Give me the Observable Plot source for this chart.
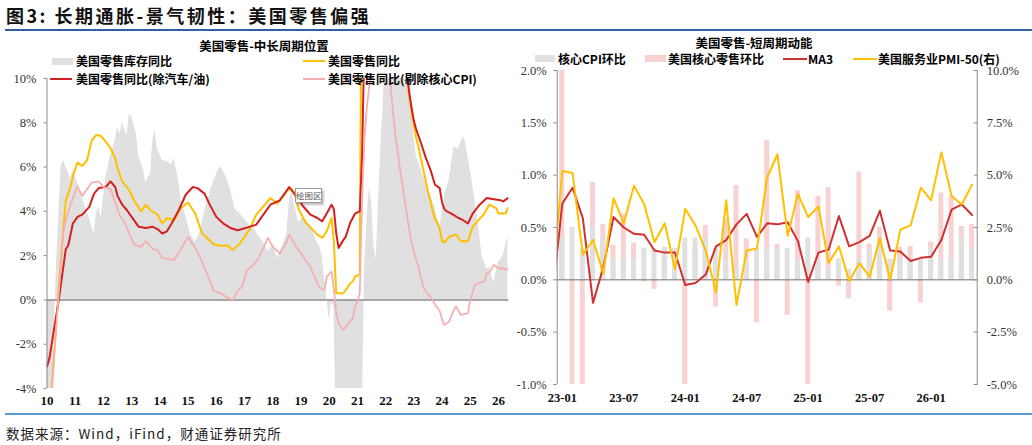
<!DOCTYPE html>
<html>
<head>
<meta charset="utf-8">
<script src="https://cdn.jsdelivr.net/npm/d3@7"></script>
<script src="https://cdn.jsdelivr.net/npm/@observablehq/plot@0.6"></script>
<style>
  html, body { margin: 0; padding: 0; background: #fff; }
  #page { position: relative; width: 1032px; height: 445px; overflow: hidden; background: #fff;
          font-family: "Noto Sans CJK SC", "Noto Sans", sans-serif; color: #000; }
  .abs { position: absolute; white-space: nowrap; }
  .fig-title { left: 6px; top: 3px; font-size: 18px; font-weight: 700; letter-spacing: 2.5px; line-height: 24px; color: #111; }
  .rule-top { left: 5px; right: 0; top: 29px; height: 2px; background: #2f5fa7; }
  .rule-bottom { left: 5px; right: 0; top: 413px; height: 2px; background: #5b9bd5; }
  .source { left: 6px; top: 424px; font-size: 13.5px; line-height: 18px; color: #222; letter-spacing: 1px; }
  .chart-title { font-size: 12.5px; font-weight: 700; line-height: 16px; transform: translateX(-50%); }
  .lg { font-size: 12px; font-weight: 700; line-height: 14px; }
  .sw-box { position: absolute; }
  .sw-line { position: absolute; height: 2px; }
  .plot-holder { position: absolute; left: 0; top: 0; width: 1032px; height: 445px; }
  .tip { left: 295px; top: 188px; width: 25px; height: 13px; border: 1px solid #9a9a9a; background: #fff;
         box-shadow: 2px 2px 2px rgba(0,0,0,0.25); font-size: 8.5px; line-height: 13px; color: #555; text-align: center; }
</style>
</head>
<body>
<div id="page">
  <div class="abs fig-title">图3: 长期通胀-景气韧性：美国零售偏强</div>
  <div class="abs rule-top"></div>

  <div class="plot-holder" id="left-chart"></div>
  <div class="plot-holder" id="right-chart"></div>

  <!-- left panel header and legend -->
  <div class="abs chart-title" style="left:264px; top:38px;">美国零售-中长周期位置</div>
  <div class="sw-box" style="left:52px; top:57.5px; width:21px; height:7.5px; background:#e0e0e0;"></div>
  <div class="abs lg" style="left:76px; top:54px;">美国零售库存同比</div>
  <div class="sw-line" style="left:303px; top:60px; width:22px; background:#ffc000;"></div>
  <div class="abs lg" style="left:328px; top:54px;">美国零售同比</div>
  <div class="sw-line" style="left:50px; top:78px; width:22px; background:#d42020;"></div>
  <div class="abs lg" style="left:76px; top:72px;">美国零售同比(除汽车/油)</div>
  <div class="sw-line" style="left:303px; top:78px; width:22px; background:#f4b0b0;"></div>
  <div class="abs lg" style="left:328px; top:72px;">美国零售同比(剔除核心CPI)</div>
  <div class="abs tip">绘图区</div>

  <!-- right panel header and legend -->
  <div class="abs chart-title" style="left:754px; top:34.5px;">美国零售-短周期动能</div>
  <div class="sw-box" style="left:535px; top:55px; width:20px; height:7px; background:#e0e0e0;"></div>
  <div class="abs lg" style="left:558px; top:51.5px;">核心CPI环比</div>
  <div class="sw-box" style="left:645px; top:55px; width:21px; height:7px; background:#f8d2d3;"></div>
  <div class="abs lg" style="left:668px; top:51.5px;">美国核心零售环比</div>
  <div class="sw-line" style="left:783px; top:58px; width:24px; background:#d03030;"></div>
  <div class="abs lg" style="left:808px; top:51.5px;">MA3</div>
  <div class="sw-line" style="left:853px; top:58px; width:24px; background:#ffc000;"></div>
  <div class="abs lg" style="left:878px; top:51.5px;">美国服务业PMI-50(右)</div>

  <div class="abs rule-bottom"></div>
  <div class="abs source">数据来源：Wind，iFind，财通证券研究所</div>
</div>

<script>
// ---------- Long/medium cycle: monthly YoY, % ----------
const inventoryYoY = [
  ["2010-01",-6.0],["2010-03",-5.0],["2010-04",-1.5],["2010-05",1.5],["2010-06",3.8],["2010-07",6.0],["2010-08",6.3],["2010-09",6.0],["2010-10",5.8],["2010-11",5.4],["2010-12",5.9],
  ["2011-01",5.6],["2011-03",5.0],["2011-05",4.3],["2011-07",3.7],["2011-09",3.0],["2011-10",3.9],["2011-11",4.2],["2011-12",3.7],
  ["2012-02",5.5],["2012-04",6.5],["2012-06",7.2],["2012-07",7.8],["2012-08",7.5],["2012-09",8.0],["2012-11",7.4],["2012-12",8.4],
  ["2013-01",8.3],["2013-03",7.5],["2013-04",6.5],["2013-06",5.9],["2013-07",5.3],["2013-09",5.7],["2013-10",7.2],["2013-11",7.7],["2013-12",6.8],
  ["2014-02",6.3],["2014-04",6.25],["2014-06",6.1],["2014-07",6.4],["2014-09",5.4],["2014-10",4.5],["2014-12",3.8],
  ["2015-02",3.0],["2015-04",2.6],["2015-06",3.0],["2015-08",4.0],["2015-11",5.1],
  ["2016-02",5.9],["2016-03",6.0],["2016-05",5.6],["2016-07",5.0],["2016-09",4.1],["2016-11",3.9],
  ["2017-02",3.5],["2017-05",3.2],["2017-07",2.9],["2017-09",2.6],["2017-11",2.2],
  ["2018-01",2.5],["2018-03",1.9],["2018-05",2.4],["2018-07",3.0],["2018-08",4.4],["2018-09",4.9],["2018-10",4.4],["2018-12",3.5],
  ["2019-02",3.75],["2019-04",3.5],["2019-06",3.2],["2019-07",2.8],["2019-09",2.4],["2019-10",2.0],["2019-11",1.0],["2019-12",0.1],
  ["2020-01",-0.9],["2020-02",-0.1],["2020-03",-0.3],["2020-04",-6.0],["2021-03",-6.0],["2021-04",1.5],["2021-05",3.5],["2021-06",5.0],["2021-07",4.5],["2021-08",2.5],["2021-09",1.8],["2021-10",4.5],["2021-11",7.0],["2021-12",9.0],
  ["2022-01",11.0],["2022-06",13.0],["2022-11",10.5],["2022-12",9.0],
  ["2023-01",7.5],["2023-02",6.5],["2023-05",5.6],["2023-08",4.7],["2023-10",4.2],["2023-12",3.2],
  ["2024-02",4.7],["2024-04",5.4],["2024-06",6.9],["2024-08",6.8],["2024-10",7.4],["2024-11",7.1],
  ["2025-01",5.9],["2025-03",4.5],["2025-05",2.9],["2025-06",2.0],["2025-08",1.4],["2025-09",1.5],["2025-11",0.75],["2025-12",1.3],
  ["2026-01",1.7],["2026-03",2.0],["2026-05",2.9]
];

const retailYoY = [
  ["2010-01",-7.0],["2010-03",-4.0],["2010-06",0.5],["2010-07",2.0],["2010-09",4.5],["2010-11",5.1],["2010-12",5.6],
  ["2011-02",6.2],["2011-04",6.05],["2011-06",6.3],["2011-08",7.2],["2011-10",7.45],["2011-12",7.4],
  ["2012-02",7.15],["2012-04",6.85],["2012-06",6.4],["2012-07",5.95],["2012-09",5.35],["2012-12",4.95],
  ["2013-02",4.5],["2013-05",4.0],["2013-07",4.3],["2013-09",4.05],["2013-12",3.85],
  ["2014-02",3.45],["2014-04",3.7],["2014-07",3.6],["2014-10",4.15],
  ["2015-01",4.4],["2015-04",3.9],["2015-07",3.0],["2015-12",2.5],
  ["2016-03",2.45],["2016-06",2.45],["2016-08",2.25],["2016-11",2.55],
  ["2017-03",3.15],["2017-06",3.85],["2017-12",4.6],
  ["2018-03",4.35],["2018-08",5.05],["2018-10",4.9],["2018-12",4.1],
  ["2019-03",3.5],["2019-08",2.95],["2019-10",2.8],["2019-12",3.1],
  ["2020-02",3.7],["2020-03",2.6],["2020-04",0.3],["2020-07",0.3],["2020-10",0.75],["2020-11",0.83],["2020-12",1.06],
  ["2021-02",1.15],["2021-03",20.0],["2022-06",15.0],["2022-09",11.5],["2022-10",10.2],["2022-11",9.2],["2022-12",8.5],
  ["2023-01",7.9],["2023-02",7.3],["2023-03",6.9],["2023-04",6.4],["2023-05",5.9],["2023-06",5.4],["2023-07",4.9],["2023-08",4.5],
  ["2023-09",4.0],["2023-10",3.65],["2023-11",3.5],["2023-12",3.2],
  ["2024-01",2.65],["2024-02",2.6],["2024-04",2.85],["2024-07",2.95],["2024-09",2.65],["2024-12",2.65],
  ["2025-02",3.3],["2025-04",3.55],["2025-07",3.9],["2025-09",4.3],["2025-12",4.15],
  ["2026-01",3.9],["2026-04",3.9],["2026-05",4.15]
];

const retailExAutoGasYoY = [
  ["2010-01",-3.0],["2010-02",-2.65],["2010-06",0.0],["2010-09",2.3],["2010-10",2.45],["2010-12",3.45],
  ["2011-02",3.75],["2011-04",3.85],["2011-07",4.2],["2011-09",4.8],["2011-11",5.05],
  ["2012-02",5.1],["2012-04",5.35],["2012-06",5.1],["2012-07",4.7],["2012-09",4.3],["2012-11",4.05],
  ["2013-01",3.75],["2013-04",3.3],["2013-07",3.25],["2013-10",3.3],["2013-12",3.2],
  ["2014-02",3.0],["2014-04",3.1],["2014-06",3.45],["2014-09",4.05],["2014-12",4.75],
  ["2015-03",5.1],["2015-05",5.05],["2015-08",4.8],["2015-10",4.35],
  ["2016-01",3.75],["2016-04",3.45],["2016-07",3.25],["2016-10",3.15],["2016-12",3.2],
  ["2017-03",3.3],["2017-06",3.4],["2017-09",3.85],["2017-12",4.3],
  ["2018-04",4.5],["2018-08",5.1],["2018-11",4.68],
  ["2019-02",4.22],["2019-05",3.85],["2019-08",3.7],["2019-10",3.55],["2019-12",3.92],
  ["2020-02",4.3],["2020-03",4.1],["2020-04",3.0],["2020-05",2.35],["2020-07",2.7],["2020-08",2.85],["2020-10",3.5],["2020-11",3.7],["2020-12",3.9],
  ["2021-01",3.95],["2021-02",4.0],["2021-03",6.5],["2021-04",12.0],["2021-05",20.0],["2022-06",15.0],["2022-09",11.5],["2022-10",10.3],
  ["2022-11",9.4],["2022-12",8.7],["2023-01",8.1],["2023-02",7.7],["2023-04",7.1],["2023-06",6.45],["2023-08",5.9],["2023-10",5.2],["2023-12",5.05],
  ["2024-01",4.4],["2024-02",4.1],["2024-03",4.0],["2024-05",3.9],["2024-08",3.7],["2024-10",3.6],["2024-12",3.45],
  ["2025-02",3.9],["2025-05",4.3],["2025-08",4.6],["2025-11",4.55],
  ["2026-02",4.5],["2026-03",4.45],["2026-05",4.6]
];

const realRetailYoY = [
  ["2010-01",-7.0],["2010-03",-4.2],["2010-05",-1.1],["2010-06",0.3],["2010-07",1.7],["2010-08",3.1],["2010-09",3.6],["2010-11",4.3],
  ["2011-01",4.9],["2011-02",5.1],["2011-04",4.7],["2011-06",5.0],["2011-08",5.3],["2011-11",5.35],
  ["2012-01",5.1],["2012-04",5.0],["2012-06",4.4],["2012-08",3.8],["2012-10",3.5],["2012-12",3.0],
  ["2013-02",2.5],["2013-05",2.4],["2013-07",2.65],["2013-10",2.3],["2013-12",2.25],
  ["2014-02",1.9],["2014-04",1.85],["2014-07",1.8],["2014-10",2.3],
  ["2015-01",2.85],["2015-04",2.35],["2015-06",1.95],["2015-09",1.2],["2015-12",0.4],
  ["2016-03",0.3],["2016-06",0.08],["2016-08",0.0],["2016-10",0.4],["2016-12",0.6],
  ["2017-02",1.35],["2017-05",1.6],["2017-07",1.9],["2017-11",2.8],
  ["2018-01",2.4],["2018-04",2.1],["2018-07",2.65],["2018-08",2.95],["2018-11",2.4],
  ["2019-02",1.95],["2019-05",1.5],["2019-08",0.75],["2019-09",0.55],["2019-11",0.45],["2019-12",1.05],
  ["2020-02",1.28],["2020-03",0.5],["2020-04",-0.6],["2020-05",-1.06],["2020-07",-1.36],["2020-09",-1.06],["2020-11",-0.83],["2020-12",-0.3],
  ["2021-01",-0.08],["2021-02",0.3],["2021-03",4.5],["2021-04",7.3],["2021-05",8.7],["2021-06",9.6],["2021-07",11.0],["2022-02",11.0],["2022-03",9.9],
  ["2022-04",8.6],["2022-05",7.6],["2022-06",6.8],["2022-07",6.0],["2022-08",5.3],["2022-09",4.6],["2022-10",3.9],["2022-11",3.2],["2022-12",2.6],
  ["2023-01",2.2],["2023-02",1.8],["2023-03",1.5],["2023-04",1.0],["2023-05",0.6],["2023-06",0.4],["2023-08",0.15],["2023-10",-0.2],["2023-11",-0.35],["2023-12",-0.5],
  ["2024-01",-0.9],["2024-02",-1.13],["2024-04",-0.98],["2024-06",-0.45],["2024-07",-0.3],["2024-09",-0.68],["2024-12",-0.6],
  ["2025-01",0.0],["2025-03",0.68],["2025-05",0.78],["2025-07",0.83],["2025-08",1.21],["2025-09",1.24],["2025-11",1.58],
  ["2026-01",1.43],["2026-03",1.43],["2026-04",1.36],["2026-05",1.4]
];

const leftYTicks = [-4, -2, 0, 2, 4, 6, 8, 10];
const leftYears = d3.range(2010, 2027);

// ---------- Short cycle: month-on-month, % ----------
const barMonths = [
  "23-01","23-02","23-03","23-04","23-05","23-06","23-07","23-08","23-09","23-10","23-11","23-12",
  "24-01","24-02","24-03","24-04","24-05","24-06","24-07","24-08","24-09","24-10","24-11","24-12",
  "25-01","25-02","25-03","25-04","25-05","25-06","25-07","25-08","25-09","25-10","25-11","25-12",
  "26-01","26-02","26-03","26-04","26-05"
];
const coreCpiMoM = [
  0.4,0.5,0.3,0.5,0.4,0.2,0.2,0.2,0.3,0.3,0.3,0.3,
  0.4,0.4,0.4,0.3,0.2,0.1,0.2,0.3,0.3,0.3,0.3,0.2,
  0.4,0.2,0.1,0.2,0.1,0.2,0.3,0.3,0.2,0.2,0.2,0.2,
  0.3,0.2,0.2,0.4,0.3
];
const coreRetailMoM = [
  2.3,-1.2,-1.2,0.93,0.53,0.33,0.63,0.35,-0.02,-0.09,0.31,0.2,
  -1.2,0.3,0.52,-0.26,0.58,0.9,0.39,-0.41,1.33,0.34,-0.34,0.85,
  -1.2,0.8,0.88,-0.06,-0.18,1.03,0.34,0.5,-0.3,0.31,0.32,-0.22,
  0.36,0.83,0.8,0.51,0.53
];
// line series start one month earlier (22-12)
const lineMonths = ["22-12", ...barMonths];
const coreRetailMA3 = [
  -0.19,
  0.73,0.88,0.59,-0.22,0.12,0.60,0.50,0.44,0.43,0.28,0.26,0.26,
  -0.05,-0.03,0.05,0.32,0.38,0.53,0.63,0.41,0.54,0.53,0.55,0.37,
  -0.02,0.26,0.29,0.61,0.32,0.36,0.42,0.66,0.28,0.27,0.18,0.21,
  0.22,0.38,0.67,0.72,0.62
];
const servicesPmiMinus50 = [
  -0.2,
  5.2,5.1,1.2,1.9,0.3,3.9,2.7,4.5,3.6,1.8,2.7,0.5,
  3.4,2.6,1.4,-0.6,3.8,-1.2,1.4,1.5,4.9,6.0,2.1,4.1,
  3.0,3.5,0.8,1.6,-0.05,0.8,0.15,2.0,0.0,2.4,2.6,4.4,
  3.8,6.1,4.0,3.6,4.55
];
const rightYTicks = [-1, -0.5, 0, 0.5, 1, 1.5, 2];
const rightXTickLabels = ["23-01","23-07","24-01","24-07","25-01","25-07","26-01"];
const pmiPerLeftUnit = 5; // right axis: 10% on the right lines up with 2% on the left

// ---------- helpers ----------
const toYear = s => +s.slice(0, 4) + (+s.slice(5, 7) - 1) / 12;
const asRows = arr => arr.map(([m, v]) => ({t: toYear(m), v}));
const monthIndex = m => barMonths.indexOf(m);

const W = 1032, H = 445;
const serif = "'Liberation Serif', 'Times New Roman', serif";

// ---------- left panel ----------
const leftFrame = {x0: 46.5, x1: 508.3, y0: 78, y1: 388};
const leftPlot = Plot.plot({
  width: W, height: H,
  marginLeft: leftFrame.x0, marginRight: W - leftFrame.x1,
  marginTop: leftFrame.y0, marginBottom: H - leftFrame.y1,
  style: {fontFamily: serif, fontSize: "12px", color: "#333", background: "transparent", overflow: "visible"},
  x: {domain: [2010, 2026.365], axis: null},
  y: {domain: [-4, 10], axis: null},
  marks: [
    Plot.areaY(asRows(inventoryYoY), {x: "t", y: "v", fill: "#e0e0e0", clip: true}),
    Plot.ruleY([0], {stroke: "#8c8c8c", strokeWidth: 1.4}),
    Plot.line(asRows(retailYoY), {x: "t", y: "v", stroke: "#ffc000", strokeWidth: 2, clip: true}),
    Plot.line(asRows(retailExAutoGasYoY), {x: "t", y: "v", stroke: "#d42020", strokeWidth: 2, clip: true}),
    Plot.line(asRows(realRetailYoY), {x: "t", y: "v", stroke: "#f4b0b0", strokeWidth: 1.8, clip: true}),
    Plot.ruleX([2010], {stroke: "#8c8c8c", strokeWidth: 1}),
    Plot.axisY({ticks: leftYTicks, tickFormat: d => d + "%", tickSize: 3, tickPadding: 7.5, label: null,
                stroke: "#8c8c8c", fontSize: 12.5, fill: "#333"}),
    Plot.axisX({ticks: leftYears, tickFormat: y => String(y).slice(2), tickSize: 0, tickPadding: 7, label: null,
                fontWeight: "bold", fontSize: 13, fill: "#111"})
  ]
});
document.getElementById("left-chart").append(leftPlot);

// ---------- right panel ----------
const rightFrame = {x0: 556.7, x1: 976.7, y0: 70, y1: 384};
const half = 0.245;
const cpiRows = coreCpiMoM.map((v, i) => ({i, v}));
const retailRows = coreRetailMoM.map((v, i) => ({i, v}));
const ma3Rows = coreRetailMA3.map((v, k) => ({i: k - 1, v}));
const pmiRows = servicesPmiMinus50.map((v, k) => ({i: k - 1, v: v / pmiPerLeftUnit}));

const rightPlot = Plot.plot({
  width: W, height: H,
  marginLeft: rightFrame.x0, marginRight: W - rightFrame.x1,
  marginTop: rightFrame.y0, marginBottom: H - rightFrame.y1,
  style: {fontFamily: serif, fontSize: "12px", color: "#333", background: "transparent", overflow: "visible"},
  x: {domain: [-0.5, barMonths.length - 0.5], axis: null},
  y: {domain: [-1, 2], axis: null},
  marks: [
    Plot.rectY(retailRows, {x1: d => d.i - half, x2: d => d.i + half, y1: 0, y2: "v", fill: "#f8d2d3", clip: true}),
    Plot.rectY(cpiRows, {x1: d => d.i - half, x2: d => d.i + half, y1: 0, y2: "v", fill: "#e0e0e0", clip: true}),
    Plot.ruleY([0], {stroke: "#6e6e6e", strokeWidth: 1}),
    Plot.line(ma3Rows, {x: "i", y: "v", stroke: "#d03030", strokeWidth: 2, clip: true}),
    Plot.line(pmiRows, {x: "i", y: "v", stroke: "#ffc000", strokeWidth: 2, clip: true}),
    Plot.ruleX([-0.5], {stroke: "#8c8c8c", strokeWidth: 1}),
    Plot.ruleX([barMonths.length - 0.5], {stroke: "#8c8c8c", strokeWidth: 1}),
    Plot.axisY({ticks: rightYTicks, tickFormat: d => d.toFixed(1) + "%", tickSize: 3.5, tickPadding: 7, label: null,
                stroke: "#8c8c8c", fontSize: 12.5, fill: "#333"}),
    Plot.axisY({anchor: "right", ticks: rightYTicks, tickFormat: d => (d * pmiPerLeftUnit).toFixed(1) + "%", label: null,
                tickSize: -4, tickPadding: 13.5, stroke: "#8c8c8c", fontSize: 12.5, fill: "#333"}),
    Plot.axisX({ticks: rightXTickLabels.map(monthIndex), tickFormat: i => barMonths[i], tickSize: 0, tickPadding: 9, label: null,
                fontWeight: "bold", fontSize: 12.5, fill: "#111"})
  ]
});
document.getElementById("right-chart").append(rightPlot);
</script>
</body>
</html>
